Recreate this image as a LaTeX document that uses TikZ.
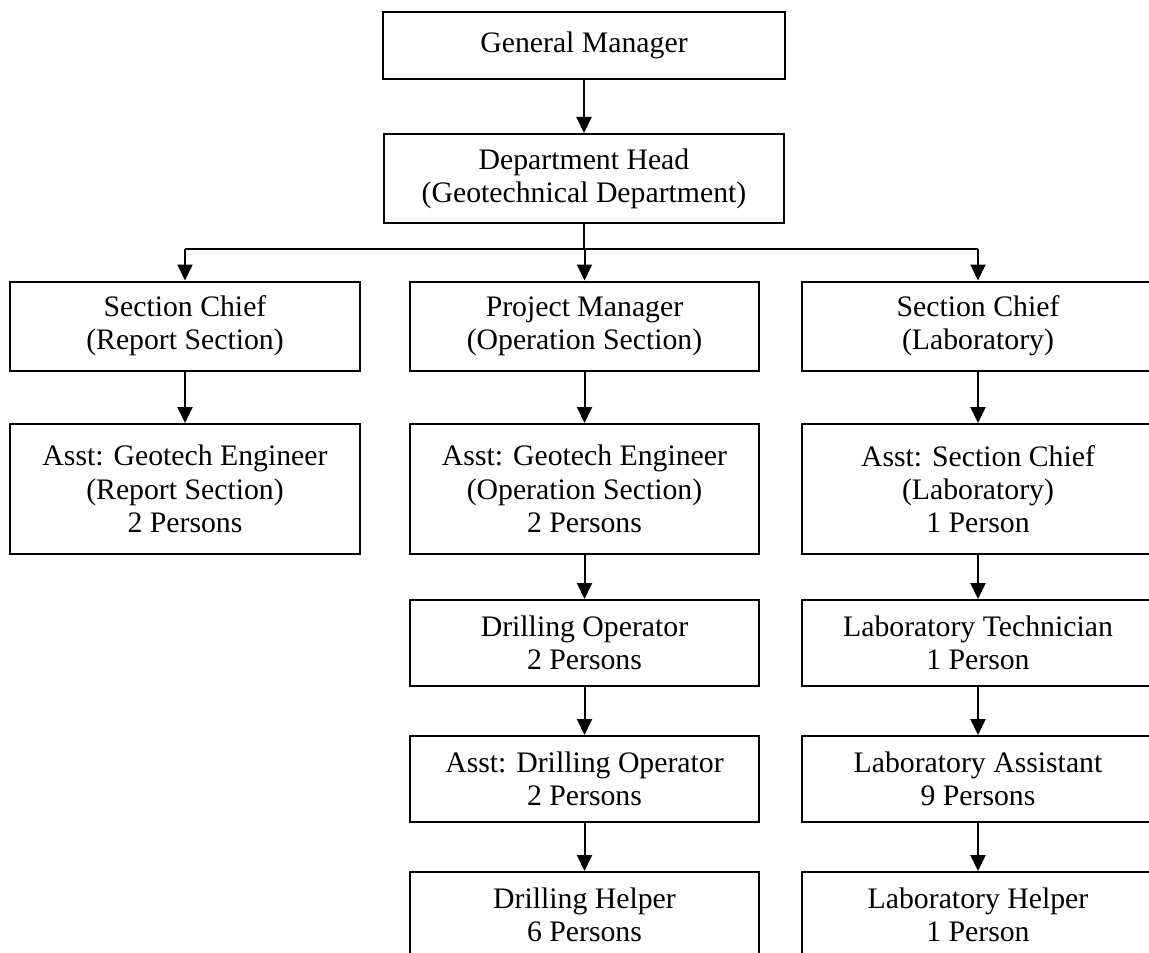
\documentclass[tikz,border=0pt]{standalone}
\usepackage{fontspec}
\setmainfont{Liberation Serif}
\usetikzlibrary{arrows.meta}
\begin{document}
\begin{tikzpicture}[x=0.4pt,y=-0.4pt, line width=0.8pt,
  box/.style={draw, rectangle, inner sep=0pt, align=center,
    font=\fontsize{11.9}{13.3}\selectfont, minimum width=139.6pt},
  onerow/.style={minimum height=26.8pt},
  tworow/.style={minimum height=35.6pt},
  threerow/.style={minimum height=52pt},
  shortbox/.style={minimum height=34.4pt},
  arr/.style={-{Triangle[length=6.4pt,width=6pt]}}]
\useasboundingbox (0,0) rectangle (1149,953);
\clip (0,0) rectangle (1149,953);

% top of the hierarchy
\node[box, onerow, minimum width=160.8pt] (gm) at (584,45.5) {General Manager};
\node[box, tworow, minimum width=159.6pt] (dh) at (584,178.5) {Department Head\\(Geotechnical Department)};

% section heads
\node[box, tworow] (sc1) at (185,326) {Section Chief\\(Report Section)};
\node[box, tworow] (pm)  at (584.5,326) {Project Manager\\(Operation Section)};
\node[box, tworow, minimum width=140.8pt] (sc3) at (978,326) {Section Chief\\(Laboratory)};

% assistants
\node[box, threerow] (ag1) at (185,489) {Asst: Geotech Engineer\\(Report Section)\\2 Persons};
\node[box, threerow] (ag2) at (584.5,489) {Asst: Geotech Engineer\\(Operation Section)\\2 Persons};
\node[box, threerow, minimum width=140.8pt] (asc) at (978,489) {Asst: Section Chief\\(Laboratory)\\1 Person};

% operation staff
\node[box, shortbox] (dop)  at (584.5,643) {Drilling Operator\\2 Persons};
\node[box, shortbox] (adop) at (584.5,779) {Asst: Drilling Operator\\2 Persons};
\node[box, shortbox] (dhp)  at (584.5,915) {Drilling Helper\\6 Persons};

% laboratory staff
\node[box, shortbox, minimum width=140.8pt] (lt) at (978,643) {Laboratory Technician\\1 Person};
\node[box, shortbox, minimum width=140.8pt] (la) at (978,779) {Laboratory Assistant\\9 Persons};
\node[box, shortbox, minimum width=140.8pt] (lh) at (978,915) {Laboratory Helper\\1 Person};

% connectors
\coordinate (bus) at (584,249);
\draw[arr] (gm) -- (dh);
\draw (dh.south) -- (bus);
\draw (bus -| sc1.north) -- (bus -| sc3.north);
\draw[arr] (bus -| sc1.north) -- (sc1.north);
\draw[arr] (bus -| pm.north) -- (pm.north);
\draw[arr] (bus -| sc3.north) -- (sc3.north);

\draw[arr] (sc1) -- (ag1);
\draw[arr] (pm) -- (ag2);
\draw[arr] (sc3) -- (asc);
\draw[arr] (ag2) -- (dop);
\draw[arr] (dop) -- (adop);
\draw[arr] (adop) -- (dhp);
\draw[arr] (asc) -- (lt);
\draw[arr] (lt) -- (la);
\draw[arr] (la) -- (lh);
\end{tikzpicture}
\end{document}
